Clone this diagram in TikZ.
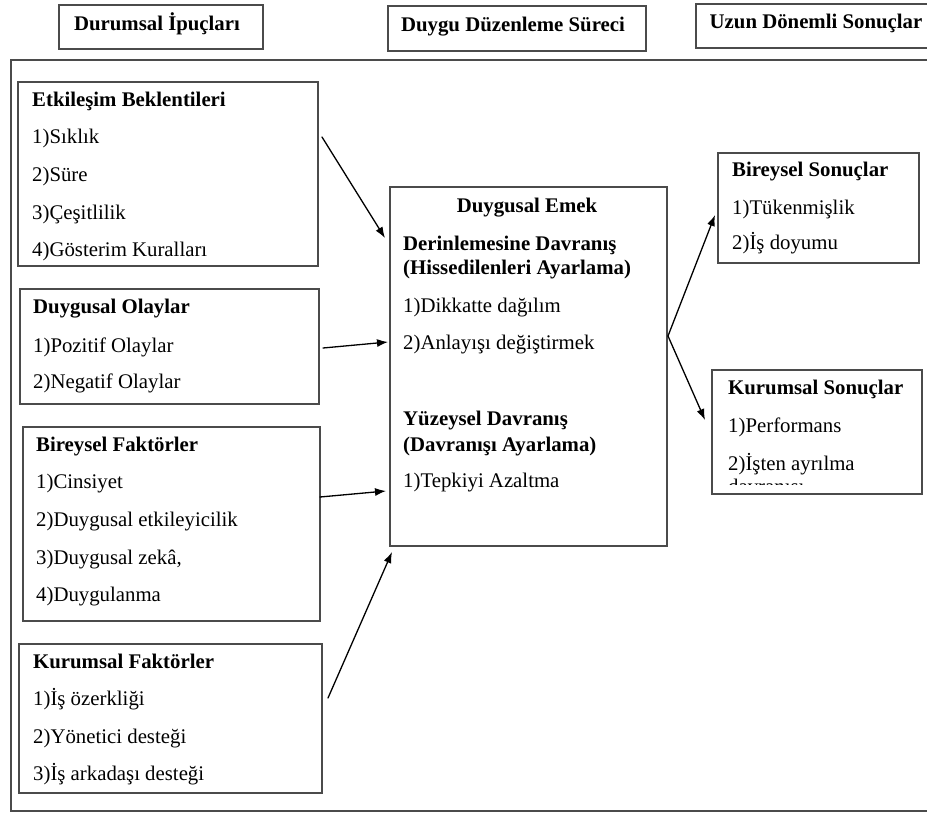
\documentclass[tikz,border=0pt]{standalone}
\usepackage{fontspec}
\setmainfont{Liberation Serif}
\usetikzlibrary{arrows.meta}
\definecolor{boxgray}{RGB}{75,75,75}
\begin{document}
\begin{tikzpicture}[x=1pt,y=-1pt,
  box/.style={draw=boxgray, line width=1.5pt, inner sep=0pt, anchor=north west},
  txt/.style={anchor=base west, inner sep=0pt, font=\fontsize{20.8}{24}\selectfont},
  ttl/.style={txt, font=\fontsize{20.8}{24}\selectfont\bfseries},
  hdr/.style={anchor=base, inner sep=0pt, font=\fontsize{20.8}{24}\selectfont\bfseries},
  link/.style={line width=1.3pt, line cap=round, -{Latex[length=11pt,width=8pt]}}]
\useasboundingbox (0,0) rectangle (927,812);
\clip (0,0) rectangle (927,812);

% column headings
\node[box, minimum width=204pt, minimum height=44pt] (h1) at (58,4) {};
\node[hdr] (h1t) at (157,30) {Durumsal İpuçları};
\node[box, minimum width=258pt, minimum height=45pt] (h2) at (387,5) {};
\node[hdr] (h2t) at (513,31) {Duygu Düzenleme Süreci};
\node[box, minimum width=250pt, minimum height=44pt] (h3) at (695,3) {};
\node[hdr] (h3t) at (816,28) {Uzun Dönemli Sonuçlar};

% outer frame
\node[box, minimum width=940pt, minimum height=751pt] (frame) at (10,59) {};

% situational cues
\node[box, minimum width=300pt, minimum height=184pt] (etk) at (17,81) {};
\node[ttl] (etk0) at (32,106) {Etkileşim Beklentileri};
\node[txt] (etk1) at (32,143) {1)Sıklık};
\node[txt] (etk2) at (32,181) {2)Süre};
\node[txt] (etk3) at (32,219) {3)Çeşitlilik};
\node[txt] (etk4) at (32,256) {4)Gösterim Kuralları};

\node[box, minimum width=299pt, minimum height=115pt] (olay) at (19,288) {};
\node[ttl] (olay0) at (33,313) {Duygusal Olaylar};
\node[txt] (olay1) at (33,352) {1)Pozitif Olaylar};
\node[txt] (olay2) at (33,388) {2)Negatif Olaylar};

\node[box, minimum width=297pt, minimum height=194pt] (bf) at (22,426) {};
\node[ttl] (bf0) at (36,451) {Bireysel Faktörler};
\node[txt] (bf1) at (36,488) {1)Cinsiyet};
\node[txt] (bf2) at (36,526) {2)Duygusal etkileyicilik};
\node[txt] (bf3) at (36,564) {3)Duygusal zekâ,};
\node[txt] (bf4) at (36,601) {4)Duygulanma};

\node[box, minimum width=303pt, minimum height=149pt] (kf) at (18,643) {};
\node[ttl] (kf0) at (33,668) {Kurumsal Faktörler};
\node[txt] (kf1) at (33,705) {1)İş özerkliği};
\node[txt] (kf2) at (33,743) {2)Yönetici desteği};
\node[txt] (kf3) at (33,780) {3)İş arkadaşı desteği};

% emotion regulation process
\node[box, minimum width=277pt, minimum height=359pt] (emek) at (389,186) {};
\node[hdr] (emek0) at (527,212) {Duygusal Emek};
\node[ttl] (emek1) at (403,250) {Derinlemesine Davranış};
\node[ttl] (emek2) at (403,274) {(Hissedilenleri Ayarlama)};
\node[txt] (emek3) at (403,312) {1)Dikkatte dağılım};
\node[txt] (emek4) at (403,349) {2)Anlayışı değiştirmek};
\node[ttl] (emek5) at (403,425) {Yüzeysel Davranış};
\node[ttl] (emek6) at (403,451) {(Davranışı Ayarlama)};
\node[txt] (emek7) at (403,487) {1)Tepkiyi Azaltma};

% long-term outcomes
\node[box, minimum width=201pt, minimum height=110pt] (bs) at (717,152) {};
\node[ttl] (bs0) at (732,176) {Bireysel Sonuçlar};
\node[txt] (bs1) at (732,214) {1)Tükenmişlik};
\node[txt] (bs2) at (732,249) {2)İş doyumu};

\node[box, minimum width=210pt, minimum height=124pt] (ks) at (711,369) {};
\node[ttl] (ks0) at (728,394) {Kurumsal Sonuçlar};
\node[txt] (ks1) at (728,432) {1)Performans};
\node[txt] (ks2) at (728,470) {2)İşten ayrılma};
\begin{scope}
  \clip (711,369) rectangle (921,484);
  \node[txt] (ks3) at (728,493) {davranışı};
\end{scope}

% connector end points
\coordinate (a1s) at (322,137);
\coordinate (a1e) at (385,238);
\coordinate (a2s) at (323,348);
\coordinate (a2e) at (388,342);
\coordinate (a3s) at (320,497);
\coordinate (a3e) at (386,491);
\coordinate (a4s) at (328,698);
\coordinate (a4e) at (392,552);
\coordinate (bs0p) at (668,336);
\coordinate (b1e) at (715,215);
\coordinate (b2e) at (705,420);

\draw[link] (a1s) -- (a1e);
\draw[link] (a2s) -- (a2e);
\draw[link] (a3s) -- (a3e);
\draw[link] (a4s) -- (a4e);
\draw[link] (bs0p) -- (b1e);
\draw[link] (bs0p) -- (b2e);
\end{tikzpicture}
\end{document}
